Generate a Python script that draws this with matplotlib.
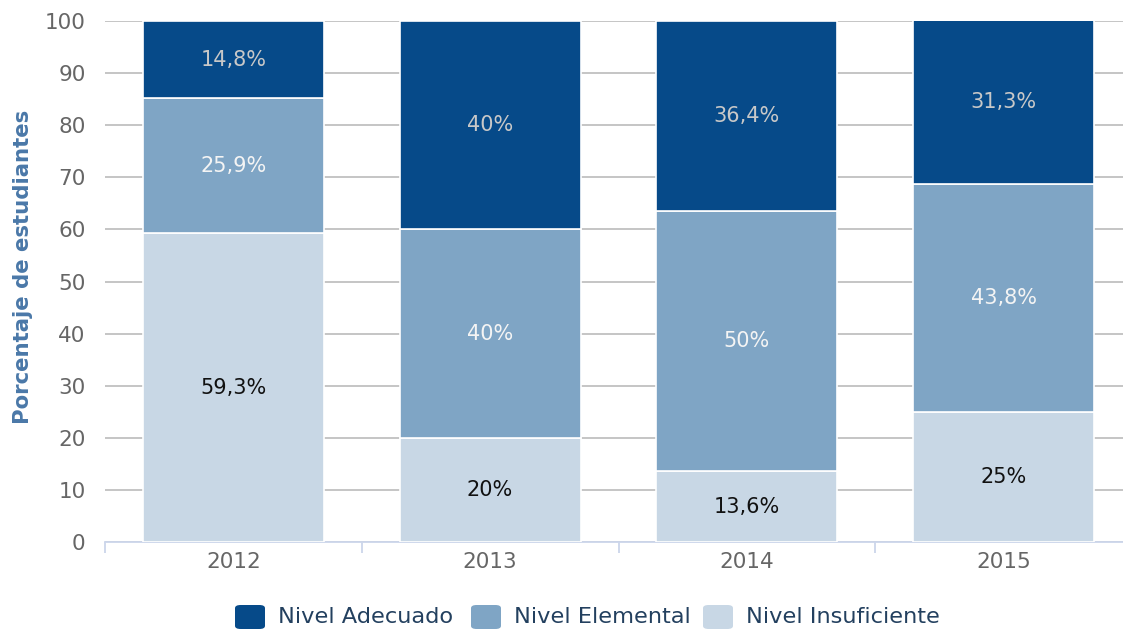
import matplotlib.pyplot as plt
from matplotlib.patches import FancyBboxPatch

years = ['2012', '2013', '2014', '2015']
insuficiente = [59.3, 20, 13.6, 25]
elemental = [25.9, 40, 50, 43.8]
adecuado = [14.8, 40, 36.4, 31.3]

# name, values, bar colour, label colour
series = [
    ('Nivel Insuficiente', insuficiente, '#c8d7e5', '#111111'),
    ('Nivel Elemental', elemental, '#7fa5c5', '#f4f4f4'),
    ('Nivel Adecuado', adecuado, '#064a89', '#c8c8c8'),
]

def fmt(v):
    s = f"{v:.1f}".rstrip('0').rstrip('.')
    return s.replace('.', ',') + '%'

W, H = 1123, 631
fig = plt.figure(figsize=(W / 100, H / 100), dpi=100)
ax = fig.add_axes([105 / W, 89 / H, 1027 / W, 521 / H])

x = list(range(len(years)))
bottom = [0.0] * len(years)
colors = {}
for name, vals, color, tcolor in series:
    ax.bar(x, vals, bottom=bottom, width=0.705, color=color,
           edgecolor='white', linewidth=1.2, zorder=3)
    colors[name] = color
    for xi, b, v in zip(x, bottom, vals):
        ax.text(xi, b + v / 2, fmt(v), ha='center', va='center',
                fontsize=15, color=tcolor, zorder=4)
    bottom = [b + v for b, v in zip(bottom, vals)]

ax.set_xlim(-0.5, 3.5)
ax.set_ylim(0, 100)
ax.set_yticks(range(0, 101, 10))
ax.yaxis.grid(True, color='#c0c0c0', linewidth=1.3, zorder=0)
ax.set_axisbelow(True)
for s in ['top', 'right', 'left']:
    ax.spines[s].set_visible(False)
ax.spines['bottom'].set_color('#ccd6eb')
ax.spines['bottom'].set_linewidth(1.3)
ax.tick_params(axis='y', length=0, labelsize=15.5, labelcolor='#666666', pad=14)

ax.set_xticks(x)
ax.set_xticklabels(years)
ax.tick_params(axis='x', length=0, labelsize=15.5, labelcolor='#666666', pad=7)
ax.set_xticks([-0.5, 0.5, 1.5, 2.5, 3.5], minor=True)
ax.tick_params(axis='x', which='minor', length=8, color='#ccd6eb', width=1.3)

ax.set_ylabel('Porcentaje de estudiantes', fontsize=15.3, fontweight='bold',
              color='#4a78a8')
ax.yaxis.set_label_coords(-0.0701, 0.529)

# legend: rounded squares + labels, placed in pixels
order = ['Nivel Adecuado', 'Nivel Elemental', 'Nivel Insuficiente']
sq_x = [235, 471, 703]
for name, px in zip(order, sq_x):
    p = FancyBboxPatch((px / W, 2 / H), 30 / W, 24 / H,
                       boxstyle='round,pad=0,rounding_size=0.005',
                       transform=fig.transFigure, facecolor=colors[name],
                       edgecolor='none')
    fig.patches.append(p)
    fig.text((px + 43) / W, 14 / H, name, ha='left', va='center',
             fontsize=16.2, color='#23405f')

fig.savefig('out.png', dpi=100)
